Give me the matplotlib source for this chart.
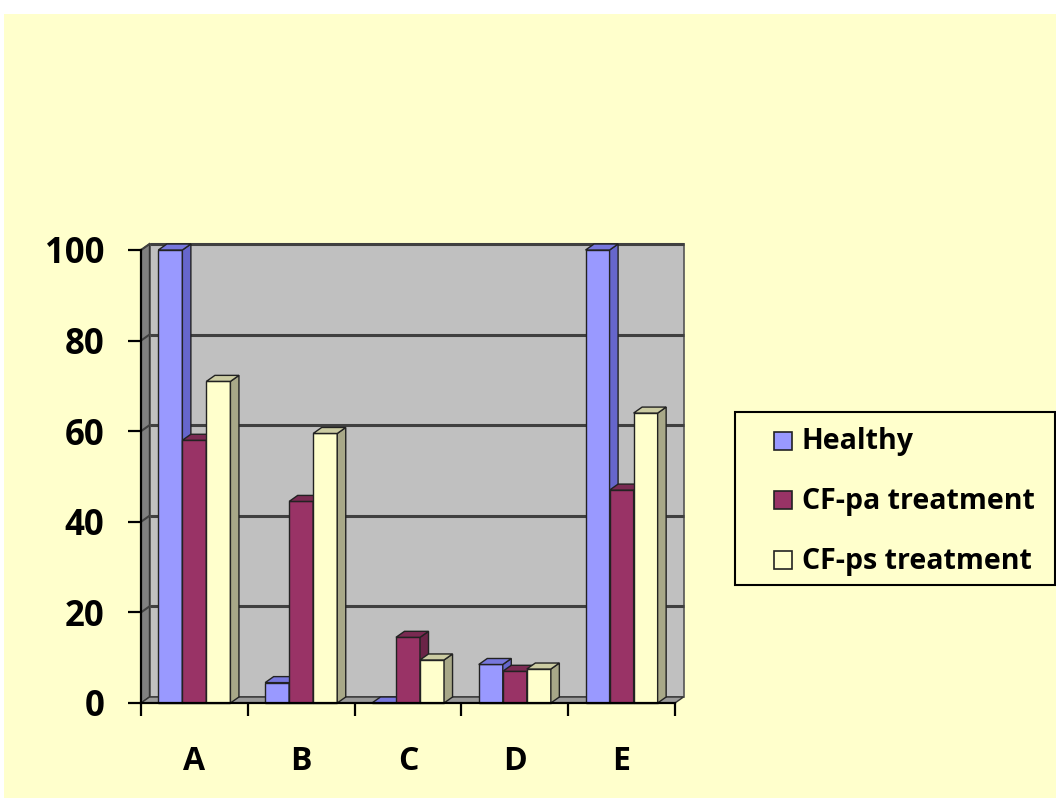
import matplotlib
matplotlib.use("Agg")
import matplotlib.pyplot as plt
from matplotlib.patches import Polygon, Rectangle

categories = ["A", "B", "C", "D", "E"]
series_names = ["Healthy", "CF-pa treatment", "CF-ps treatment"]
healthy = [100, 4.5, 0, 8.5, 100]
cf_pa = [58, 44.5, 14.5, 7, 47]
cf_ps = [71, 59.5, 9.5, 7.5, 64]
y_ticks = [0, 20, 40, 60, 80, 100]

front_colors = ["#9999FF", "#993366", "#FFFFCC"]
side_colors = ["#6666CC", "#6B2447", "#A8A888"]
top_colors = ["#7777DD", "#7A2A52", "#CCCCA3"]
BG = "#FFFFCC"
FONT = "Open Sans"

W, H = 1056, 798
fig = plt.figure(figsize=(W / 100, H / 100), dpi=100)
fig.patch.set_facecolor("white")
fig.add_artist(Rectangle((4 / W, 0), 1 - 4 / W, (H - 14) / H, transform=fig.transFigure,
                         facecolor=BG, edgecolor="none", zorder=0))

ax = fig.add_axes([141 / W, (H - 703) / H, 534 / W, 453 / H])
ax.patch.set_visible(False)
ax.set_xlim(-0.5, len(categories) - 0.5)
ax.set_ylim(0, 100)

dx = 8.5 / 106.8   # depth offset in data units (x)
dy = 6 / 4.53      # depth offset in data units (y)
x0, x1 = -0.5, len(categories) - 0.5
top = y_ticks[-1]

# walls
ax.add_patch(Polygon([(x0 + dx, dy), (x1 + dx, dy), (x1 + dx, top + dy), (x0 + dx, top + dy)],
                     closed=True, facecolor="#C0C0C0", edgecolor="#555555", lw=1.2,
                     zorder=1, clip_on=False))
ax.add_patch(Polygon([(x0, 0), (x0 + dx, dy), (x0 + dx, top + dy), (x0, top)],
                     closed=True, facecolor="#808080", edgecolor="#333333", lw=1,
                     zorder=1.1, clip_on=False))
ax.add_patch(Polygon([(x0, 0), (x1, 0), (x1 + dx, dy), (x0 + dx, dy)],
                     closed=True, facecolor="#9A9A9A", edgecolor="#333333", lw=1,
                     zorder=1.1, clip_on=False))
for v in y_ticks[1:]:
    ax.plot([x0 + dx, x1 + dx], [v + dy, v + dy], color="#404040", lw=2.2, zorder=1.5,
            clip_on=False, solid_capstyle="butt")
    ax.plot([x0, x0 + dx], [v, v + dy], color="#404040", lw=1.5, zorder=1.5, clip_on=False)

bw = 0.225
all_series = [healthy, cf_pa, cf_ps]
for s, vals in enumerate(all_series):
    z = 3 + s
    offs = (s - 1) * bw
    xs = [i + offs for i in range(len(categories))]
    ax.bar(xs, vals, width=bw, color=front_colors[s], edgecolor="#222222", lw=1,
           zorder=z, clip_on=False)
    for xc, h in zip(xs, vals):
        l, r = xc - bw / 2, xc + bw / 2
        ax.add_patch(Polygon([(r, 0), (r + dx, dy), (r + dx, h + dy), (r, h)], closed=True,
                             facecolor=side_colors[s], edgecolor="#222222", lw=1,
                             zorder=z, clip_on=False))
        ax.add_patch(Polygon([(l, h), (l + dx, h + dy), (r + dx, h + dy), (r, h)], closed=True,
                             facecolor=top_colors[s], edgecolor="#222222", lw=1,
                             zorder=z, clip_on=False))

for sp in ["top", "right"]:
    ax.spines[sp].set_visible(False)
for sp in ["left", "bottom"]:
    ax.spines[sp].set_color("black")
    ax.spines[sp].set_linewidth(1.6)
    ax.spines[sp].set_zorder(10)

ax.set_yticks(y_ticks)
ax.set_yticklabels([str(v) for v in y_ticks])
ax.tick_params(axis="y", length=9.5, width=1.6, pad=17, direction="out", labelsize=25)
for t in ax.get_yticklabels():
    t.set_fontfamily(FONT)
    t.set_fontweight("bold")
ax.set_xticks([x0 + i for i in range(len(categories) + 1)])
ax.set_xticklabels([""] * (len(categories) + 1))
ax.tick_params(axis="x", which="major", length=9.5, width=1.6, direction="out")
ax.set_xticks(range(len(categories)), minor=True)
ax.set_xticklabels(categories, minor=True)
ax.tick_params(axis="x", which="minor", length=0, pad=30, labelsize=23)
for t in ax.get_xticklabels(minor=True):
    t.set_fontfamily(FONT)
    t.set_fontweight("bold")

# legend box (figure pixel coordinates converted to fractions)
def fx(px):
    return px / W

def fy(py):
    return (H - py) / H

fig.add_artist(Rectangle((fx(735), fy(585)), fx(1055) - fx(735), fy(412) - fy(585),
                         transform=fig.transFigure, facecolor=BG, edgecolor="black",
                         lw=1.5, zorder=5))
row_y = [441, 500, 560]
for i, name in enumerate(series_names):
    cy = row_y[i]
    fig.add_artist(Rectangle((fx(774), fy(cy + 9)), 18 / W, 18 / H, transform=fig.transFigure,
                             facecolor=front_colors[i], edgecolor="#222222", lw=1.2, zorder=6))
    fig.text(fx(802), fy(cy + 1), name, fontfamily=FONT, fontweight="bold", fontsize=20.5,
             ha="left", va="center", zorder=6)

fig.savefig("out.png", dpi=100, facecolor=fig.get_facecolor())
